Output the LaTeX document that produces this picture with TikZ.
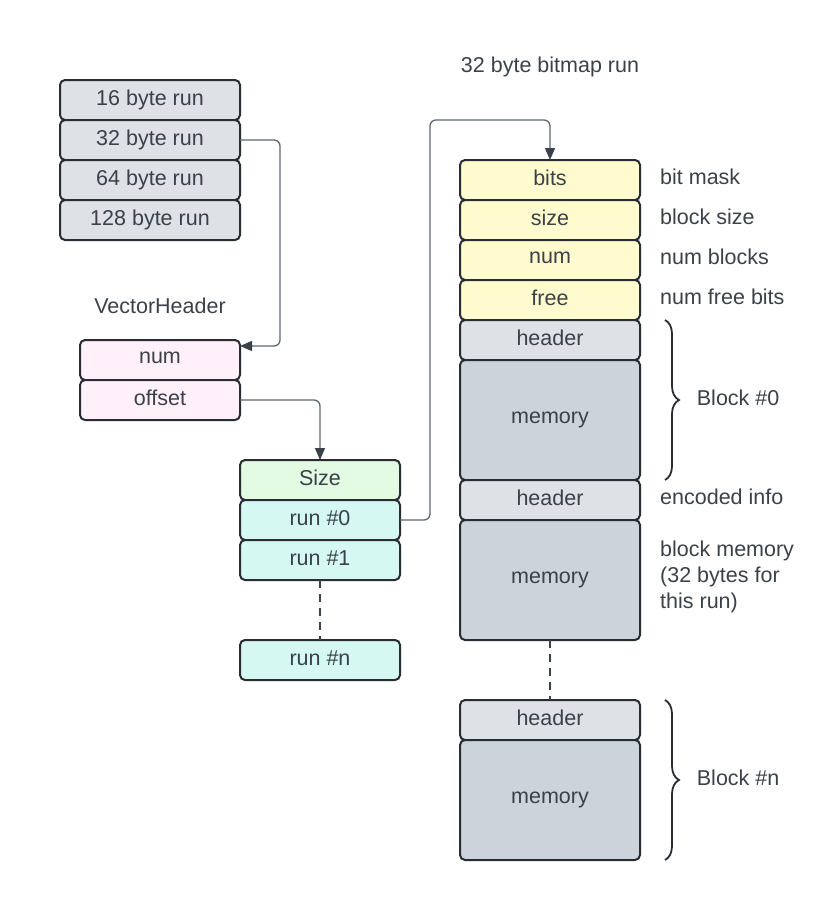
\documentclass[tikz,border=0pt]{standalone}
\usepackage{fontspec}
\setmainfont{Liberation Sans}
\usetikzlibrary{arrows.meta,decorations.pathreplacing}

\definecolor{ink}{HTML}{3A4149}
\definecolor{edge}{HTML}{282C33}
\definecolor{wire}{HTML}{5F6670}
\definecolor{runfill}{HTML}{DEE1E6}
\definecolor{memfill}{HTML}{CDD3DB}
\definecolor{bitfill}{HTML}{FFFBCF}
\definecolor{vecfill}{HTML}{FFF0FA}
\definecolor{sizefill}{HTML}{E3FAE3}
\definecolor{slotfill}{HTML}{D6F8F3}

\begin{document}
\begin{tikzpicture}[x=1pt, y=-1pt,
    every node/.style={font=\fontsize{21.5}{26}\selectfont, text=ink},
    box/.style={draw=edge, line width=2pt, rounded corners=5pt, minimum height=40pt,
                inner sep=0pt, outer sep=0pt, text depth=0.42em},
    widebox/.style={box, minimum width=180pt},
    narrowbox/.style={box, minimum width=160pt},
    conn/.style={draw=wire, line width=1.3pt, rounded corners=6pt,
                 -{Triangle[length=12pt, width=10pt, color=ink]}},
    gap/.style={draw=ink, line width=1.2pt, dash pattern=on 8pt off 6pt},
    curly/.style={draw=edge, line width=1.8pt, decorate,
                  decoration={brace, amplitude=14pt}},
    side/.style={anchor=west, align=left, inner sep=0pt}]
    \useasboundingbox (0,0) rectangle (840,900);

    % Run sizes
    \foreach \n [count=\i] in {16,32,64,128}
        \node[widebox, fill=runfill] (r\n) at (150, 60+40*\i) {\n\ byte run};

    % VectorHeader
    \node (vhead) at (160,306) {VectorHeader};
    \node[narrowbox, fill=vecfill] (vnum) at (160,360) {num};
    \node[narrowbox, fill=vecfill] (voff) at (160,400) {offset};

    % Vector
    \node[narrowbox, fill=sizefill] (vsize) at (320,480) {Size};
    \node[narrowbox, fill=slotfill] (run0) at (320,520) {run \#0};
    \node[narrowbox, fill=slotfill] (run1) at (320,560) {run \#1};
    \node[narrowbox, fill=slotfill] (runn) at (320,660) {run \#n};
    \draw[gap] (run1.south) -- (runn.north);

    % Bitmap run
    \node (bmtitle) at (550,67) {32 byte bitmap run};
    \foreach \n/\lab [count=\i] in {bits/bit mask, size/block size, num/num blocks, free/num free bits} {
        \node[widebox, fill=bitfill] (b\n) at (550, 140+40*\i) {\n};
        \node[side] (l\n) at (660, 137+40*\i) {\lab};
    }
    \node[widebox, fill=runfill] (hd0) at (550,340) {header};
    \node[widebox, fill=memfill, minimum height=120pt] (mem0) at (550,420) {memory};
    \node[widebox, fill=runfill] (hd1) at (550,500) {header};
    \node[widebox, fill=memfill, minimum height=120pt] (mem1) at (550,580) {memory};
    \node[widebox, fill=runfill] (hdn) at (550,720) {header};
    \node[widebox, fill=memfill, minimum height=120pt] (memn) at (550,800) {memory};
    \draw[gap] (mem1.south) -- (hdn.north);

    % Notes
    \node[side] (linfo) at (660,497) {encoded info};
    \node[side] (lmem) at (660,577) {block memory\\(32 bytes for\\this run)};
    \draw[curly] ([xshift=25pt]hd0.north east) -- ([xshift=25pt]mem0.south east)
        node[midway, right=31pt, inner sep=0pt, yshift=2pt] (blk0) {Block \#0};
    \draw[curly] ([xshift=25pt]hdn.north east) -- ([xshift=25pt]memn.south east)
        node[midway, right=31pt, inner sep=0pt, yshift=2pt] (blkn) {Block \#n};

    % Connectors
    \draw[conn] (r32.east) -- ++(40,0) |- ([yshift=14pt]vnum.east);
    \draw[conn] (voff.east) -| (vsize.north);
    \draw[conn] (run0.east) -- ++(30,0) |- ([yshift=40pt]bbits.north) -- (bbits.north);
\end{tikzpicture}
\end{document}
